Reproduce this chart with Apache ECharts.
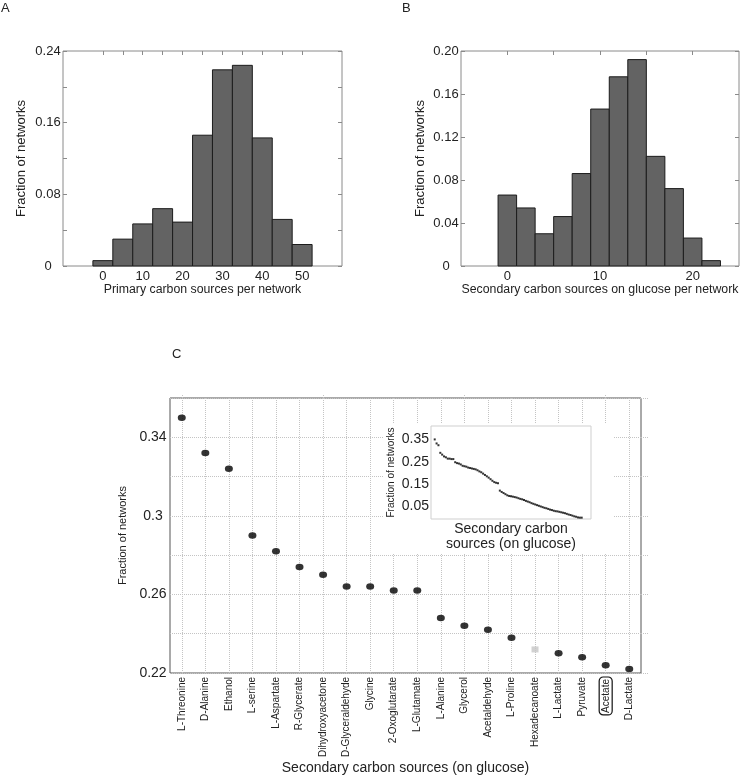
<!DOCTYPE html>
<html><head><meta charset="utf-8">
<script src="https://cdn.jsdelivr.net/npm/echarts@6/dist/echarts.min.js"></script>
<style>html,body{margin:0;padding:0;background:#fff}#c{width:740px;height:777px}</style>
</head><body><div id="c"></div>
<script>
// Panel A: primary carbon sources per network
const aBinCenters = [0, 5, 10, 15, 20, 25, 30, 35, 40, 45, 50];
const aFractions = [0.006, 0.030, 0.047, 0.064, 0.049, 0.146, 0.219, 0.224, 0.143, 0.052, 0.024];
const aBinWidth = 5;
const aXTicks = [0, 5, 10, 15, 20, 25, 30, 35, 40, 45, 50];
const aXLabels = [0, 10, 20, 30, 40, 50];
const aYTicks = [0, 0.04, 0.08, 0.12, 0.16, 0.20, 0.24];
const aYLabels = [0, 0.08, 0.16, 0.24];

// Panel B: secondary carbon sources on glucose per network
const bBinCenters = [0, 2, 4, 6, 8, 10, 12, 14, 16, 18, 20, 22];
const bFractions = [0.066, 0.054, 0.030, 0.046, 0.086, 0.146, 0.176, 0.192, 0.102, 0.072, 0.026, 0.005];
const bBinWidth = 2;
const bXTicks = [0, 5, 10, 15, 20];
const bXLabels = [0, 10, 20];
const bYTicks = [0, 0.04, 0.08, 0.12, 0.16, 0.20];
const bYLabels = [0, 0.04, 0.08, 0.12, 0.16, 0.20];

// Panel C: top 20 secondary carbon sources
const cSources = ['L-Threonine','D-Alanine','Ethanol','L-serine','L-Aspartate','R-Glycerate','Dihydroxyacetone','D-Glyceraldehyde','Glycine','2-Oxoglutarate','L-Glutamate','L-Alanine','Glycerol','Acetaldehyde','L-Proline','Hexadecanoate','L-Lactate','Pyruvate','Acetate','D-Lactate'];
const cFractions = [0.350, 0.332, 0.324, 0.290, 0.282, 0.274, 0.270, 0.264, 0.264, 0.262, 0.262, 0.248, 0.244, 0.242, 0.238, 0.232, 0.230, 0.228, 0.224, 0.222];
const cGreySource = 'Hexadecanoate';
const cBoxedSource = 'Acetate';
const cYLabels = [0.22, 0.26, 0.3, 0.34];

// Inset: all secondary carbon sources (ranked)
const insetTail = [0.220,0.218,0.216,0.212,0.207,0.203,0.197,0.191,0.185,0.179,0.172,0.165,0.159,0.156,0.154,0.121,0.115,0.110,0.105,0.100,0.097,0.096,0.094,0.092,0.090,0.087,0.084,0.082,0.079,0.075,0.072,0.069,0.065,0.062,0.059,0.056,0.053,0.050,0.047,0.044,0.042,0.039,0.036,0.034,0.031,0.029,0.028,0.026,0.024,0.022,0.020,0.017,0.014,0.012,0.009,0.006,0.004,0.001,0.000,0.000];
const insetFractions = cFractions.concat(insetTail);
const insetYLabels = [0.05, 0.15, 0.25, 0.35];
const insetZoomBox = [[-1.5, 0.21], [19.5, 0.36]];

const FONT = "'Liberation Sans', Arial, sans-serif";
const NARROW = "'Liberation Sans Narrow', 'Arial Narrow', 'Liberation Sans', Arial, sans-serif";
const FRAME = '#8a8a8a';

const chart = echarts.init(document.getElementById('c'));

function histSeries(xi, yi, centers, vals, width) {
  return {
    type: 'custom', xAxisIndex: xi, yAxisIndex: yi,
    data: centers.map((c, i) => [c, vals[i]]),
    renderItem: (params, api) => {
      const x = api.value(0), y = api.value(1);
      const p0 = api.coord([x - width / 2, y]);
      const p1 = api.coord([x + width / 2, 0]);
      return { type: 'rect', shape: { x: p0[0], y: p0[1], width: p1[0] - p0[0], height: p1[1] - p0[1] },
        style: { fill: '#636363', stroke: '#1c1c1c', lineWidth: 1 } };
    }
  };
}
const yFmt = v => (v === 0 ? '0' : v.toFixed(2));

function histX(grid, pos, min, max, ticks, labels, name) {
  return {
    type: 'value', gridIndex: grid, position: pos, min: min, max: max,
    axisLine: { show: false, onZero: false },
    axisTick: { show: true, inside: true, length: 4, customValues: ticks, lineStyle: { color: FRAME } },
    axisLabel: { show: !!labels, customValues: labels || [], margin: 4, color: '#222', fontSize: 13, fontFamily: FONT },
    splitLine: { show: false },
    name: name || '', nameLocation: 'middle', nameGap: 15,
    nameTextStyle: { color: '#222', fontSize: 12.3, fontFamily: FONT }
  };
}
function histY(grid, pos, min, max, ticks, labels, name, gap) {
  return {
    type: 'value', gridIndex: grid, position: pos, min: min, max: max,
    axisLine: { show: false, onZero: false },
    axisTick: { show: true, inside: true, length: 4, customValues: ticks, lineStyle: { color: FRAME } },
    axisLabel: { show: !!labels, customValues: labels || [], margin: 15, align: 'center', formatter: yFmt, color: '#222', fontSize: 13, fontFamily: FONT },
    splitLine: { show: false },
    name: name || '', nameLocation: 'middle', nameGap: gap || 35,
    nameTextStyle: { color: '#222', fontSize: 13, fontFamily: FONT }
  };
}

const option = {
  animation: false,
  backgroundColor: '#fff',
  textStyle: { fontFamily: FONT },
  graphic: [
    { type: 'text', left: 1, top: 2, style: { text: 'A', fontSize: 13, fontFamily: FONT, fill: '#222' } },
    { type: 'text', left: 402, top: 2, style: { text: 'B', fontSize: 13, fontFamily: FONT, fill: '#222' } },
    { type: 'text', left: 172, top: 348, style: { text: 'C', fontSize: 13, fontFamily: FONT, fill: '#222' } },
    { type: 'rect', z: 10, shape: { x: 383, y: 424, width: 230, height: 129 }, style: { fill: '#fff' } }
  ],
  grid: [
    { left: 63, top: 51, width: 279, height: 215, outerBoundsMode: 'none', show: true, borderColor: FRAME, borderWidth: 1, backgroundColor: 'transparent' },
    { left: 461, top: 51, width: 278, height: 215, outerBoundsMode: 'none', show: true, borderColor: FRAME, borderWidth: 1, backgroundColor: 'transparent' },
    { left: 170, top: 398, width: 471, height: 275, outerBoundsMode: 'none', show: true, borderColor: '#555', borderWidth: 1, backgroundColor: 'transparent' },
    { left: 431, top: 426, width: 160, height: 93, outerBoundsMode: 'none', show: true, z: 11, borderColor: '#cfcfcf', borderWidth: 1, backgroundColor: 'transparent' }
  ],
  xAxis: [
    histX(0, 'bottom', -10, 60, aXTicks, aXLabels, 'Primary carbon sources per network'),
    histX(0, 'top', -10, 60, aXTicks, null),
    histX(1, 'bottom', -5, 25, bXTicks, bXLabels, 'Secondary carbon sources on glucose per network'),
    histX(1, 'top', -5, 25, bXTicks, null),
    {
      type: 'category', gridIndex: 2, position: 'bottom', data: cSources,
      axisLine: { show: false, onZero: false }, axisTick: { show: false },
      axisLabel: {
        rotate: 90, margin: 4, interval: 0, color: '#222', fontSize: 10, fontFamily: NARROW,
        formatter: v => (v === cBoxedSource ? '{box|' + v + '}' : v),
        rich: { box: { borderColor: '#111', borderWidth: 1.2, borderRadius: 4, padding: [2, 2, 1, 2], fontSize: 10, fontFamily: NARROW, color: '#222' } }
      },
      splitLine: { show: false },
      name: 'Secondary carbon sources (on glucose)', nameLocation: 'middle', nameGap: 82,
      nameTextStyle: { color: '#222', fontSize: 14, fontFamily: FONT }
    },
    {
      type: 'category', gridIndex: 2, position: 'top', data: cSources,
      axisLine: { show: false, onZero: false },
      axisTick: { show: true, alignWithLabel: true, inside: false, length: 4, lineStyle: { color: '#c4c4c4', type: 'dotted' } },
      axisLabel: { show: false }, splitLine: { show: false }
    },
    {
      type: 'value', gridIndex: 3, min: -2, max: 84, z: 12,
      axisLine: { show: false, onZero: false }, axisTick: { show: false }, axisLabel: { show: false }, splitLine: { show: false },
      name: 'Secondary carbon\nsources (on glucose)', nameLocation: 'middle', nameGap: 3,
      nameTextStyle: { color: '#222', fontSize: 14, fontFamily: FONT, lineHeight: 15, verticalAlign: 'top' }
    }
  ],
  yAxis: [
    histY(0, 'left', 0, 0.24, aYTicks, aYLabels, 'Fraction of networks', 35),
    histY(0, 'right', 0, 0.24, aYTicks, null),
    histY(1, 'left', 0, 0.20, bYTicks, bYLabels, 'Fraction of networks', 34),
    histY(1, 'right', 0, 0.20, bYTicks, null),
    {
      type: 'value', gridIndex: 2, position: 'left', min: 0.22, max: 0.36, interval: 0.02,
      axisLine: { show: false, onZero: false }, axisTick: { show: false },
      axisLabel: { customValues: cYLabels, margin: 17, align: 'center', color: '#222', fontSize: 14, fontFamily: FONT, formatter: v => String(+v.toFixed(2)) },
      splitLine: { show: true, lineStyle: { color: '#c4c4c4', type: 'dotted', width: 1 } },
      name: 'Fraction of networks', nameLocation: 'middle', nameGap: 38,
      nameTextStyle: { color: '#222', fontSize: 11, fontFamily: NARROW }
    },
    {
      type: 'value', gridIndex: 2, position: 'right', min: 0.22, max: 0.36, interval: 0.02,
      axisLine: { show: false, onZero: false },
      axisTick: { show: true, inside: false, length: 7, lineStyle: { color: '#c4c4c4', type: 'dotted' } },
      axisLabel: { show: false }, splitLine: { show: false }
    },
    {
      type: 'value', gridIndex: 3, min: -0.006, max: 0.41, z: 12,
      axisLine: { show: false, onZero: false }, axisTick: { show: false },
      axisLabel: { customValues: insetYLabels, margin: 2, color: '#222', fontSize: 14, fontFamily: FONT, formatter: v => v.toFixed(2) },
      splitLine: { show: false },
      name: 'Fraction of networks', nameLocation: 'middle', nameGap: 35,
      nameTextStyle: { color: '#222', fontSize: 10, fontFamily: NARROW }
    }
  ],
  series: [
    histSeries(0, 0, aBinCenters, aFractions, aBinWidth),
    histSeries(2, 2, bBinCenters, bFractions, bBinWidth),
    {
      type: 'scatter', xAxisIndex: 4, yAxisIndex: 4, z: 2,
      symbol: 'rect', symbolSize: [7, 6], itemStyle: { color: '#c6c6c6' },
      data: cSources.map((s, i) => (s === cGreySource ? [s, cFractions[i]] : null)).filter(d => d),
      markLine: {
        silent: true, z: 1, symbol: ['none', 'none'], label: { show: false },
        lineStyle: { color: '#c4c4c4', type: 'dotted', width: 1 },
        data: cSources.map(s => ({ xAxis: s }))
      }
    },
    {
      type: 'scatter', xAxisIndex: 4, yAxisIndex: 4, z: 3,
      symbol: 'circle', symbolSize: [8, 6.5], itemStyle: { color: '#000' },
      data: cSources.map((s, i) => (s !== cGreySource ? [s, cFractions[i]] : null)).filter(d => d)
    },
    {
      type: 'scatter', xAxisIndex: 6, yAxisIndex: 6, z: 13,
      symbol: 'rect', symbolSize: [2, 2], itemStyle: { color: '#000' },
      data: insetFractions.map((v, i) => [i, v]),
      markArea: {
        silent: true,
        itemStyle: { color: 'rgba(0,0,0,0)', borderColor: '#c8c8c8', borderWidth: 1 },
        data: [[{ coord: insetZoomBox[0] }, { coord: insetZoomBox[1] }]]
      }
    }
  ]
};
chart.setOption(option);
</script>
</body></html>
